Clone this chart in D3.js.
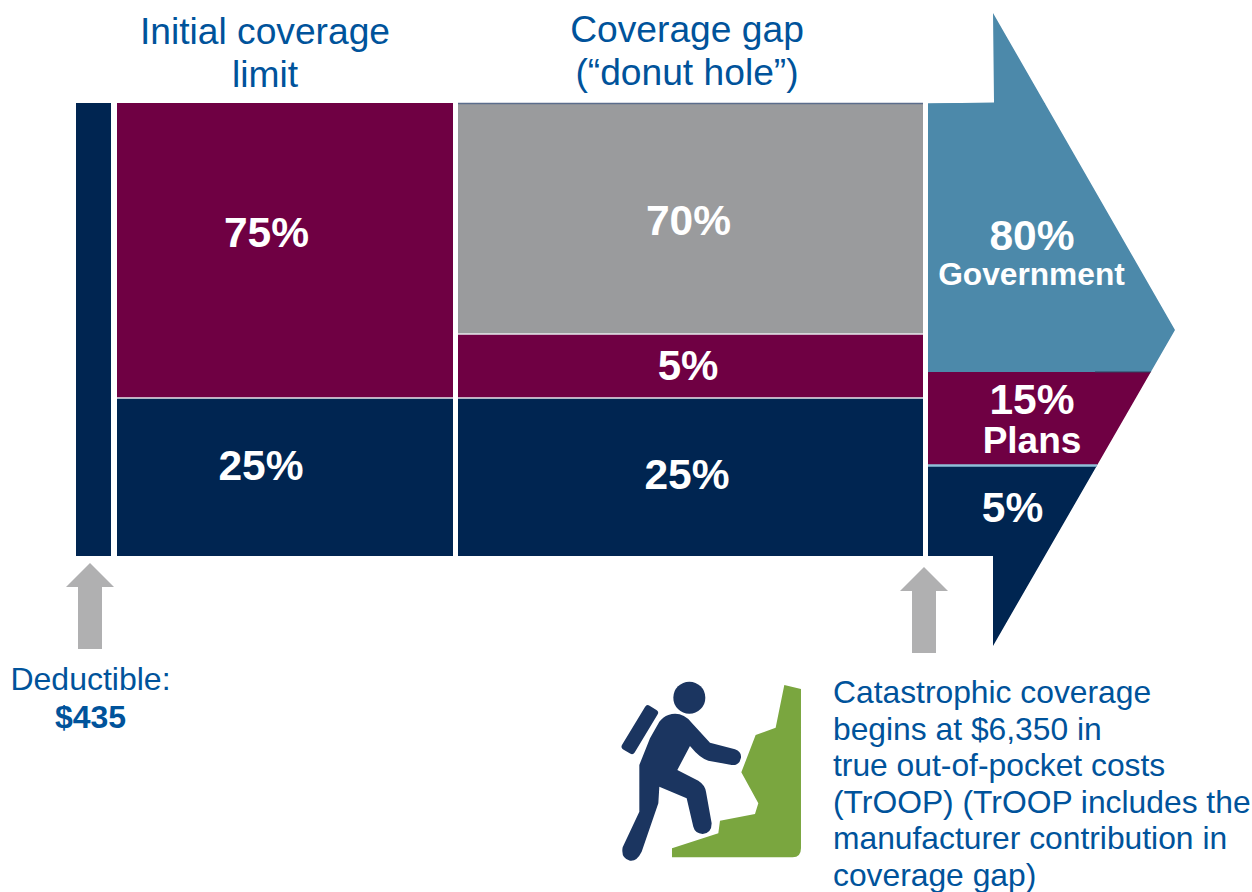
<!DOCTYPE html>
<html>
<head>
<meta charset="utf-8">
<script src="https://cdnjs.cloudflare.com/ajax/libs/d3/7.8.5/d3.min.js"></script>
<style>
html,body{margin:0;padding:0;background:#fff;}
svg{display:block;font-family:"Liberation Sans",Arial,sans-serif;}
</style>
</head>
<body>
<svg id="chart" width="1252" height="892"></svg>
<script>
// Medicare Part D benefit phases: who pays what share in each phase.
const phases = ["Deductible", "Initial coverage limit", "Coverage gap", "Catastrophic"];
const initialShares = [25, 75];
const initialLabels = ["25%", "75%"];
const gapShares = [25, 5, 70];
const gapLabels = ["25%", "5%", "70%"];
const catastrophicShares = [5, 15, 80];
const catastrophicLabels = ["5%", "15%", "80%"];
const catastrophicPayers = ["", "Plans", "Government"];
const phaseHeadings = [["Initial coverage", "limit"], ["Coverage gap", "(“donut hole”)"]];
const deductibleText = ["Deductible:", "$435"];
const catastrophicText = [
  "Catastrophic coverage",
  "begins at $6,350 in",
  "true out-of-pocket costs",
  "(TrOOP) (TrOOP includes the",
  "manufacturer contribution in",
  "coverage gap)"
];

const NAVY = "#002551", MAROON = "#6f0043", GREY = "#9a9b9d", TEAL = "#4c89aa",
      ARROW_GREY = "#b0b0b1", TEXT_BLUE = "#00539b", WHITE = "#fff";

const svg = d3.select("#chart");

// The bands are schematic, so every phase has its own piecewise share-to-pixel scale.
const yInitial = d3.scaleLinear().domain([0, 25, 100]).range([556, 398, 103]);
const yGap = d3.scaleLinear().domain([0, 25, 30, 100]).range([556, 398, 334, 103]);
const yCat = d3.scaleLinear().domain([0, 5, 20, 100]).range([556, 465.5, 372, 103]);

// Phase columns laid out along the horizontal axis.
const x = d3.scaleOrdinal().domain(phases).range([[76, 111], [117, 453], [458, 923], [928, 1180]]);

function stack(shares) {
  let total = 0;
  return shares.map(s => { const d = { from: total, to: total + s }; total += s; return d; });
}

function drawColumn(phase, shares, colors, y, parent) {
  const [x0, x1] = x(phase);
  parent.selectAll(null).data(stack(shares)).join("rect")
    .attr("x", x0).attr("width", x1 - x0)
    .attr("y", d => y(d.to)).attr("height", d => y(d.from) - y(d.to))
    .attr("fill", (d, i) => colors[i]);
}

// Deductible bar spans the full height of the benefit.
drawColumn(phases[0], [100], [NAVY], yInitial, svg);
drawColumn(phases[1], initialShares, [NAVY, MAROON], yInitial, svg);
drawColumn(phases[2], gapShares, [NAVY, MAROON, GREY], yGap, svg);

// Hairlines between the stacked bands.
const hair = (x0, x1, yy, c, w) => svg.append("line")
  .attr("x1", x0).attr("x2", x1).attr("y1", yy).attr("y2", yy)
  .attr("stroke", c).attr("stroke-width", w);
hair(117, 453, yInitial(25), "#e8e8ee", 1.5);
hair(458, 923, yGap(25), "#e8e8ee", 1.5);
hair(458, 923, yGap(30), "#e8e8ee", 1.5);
hair(458, 923, yGap(100) + 0.5, "#5b6d8c", 1.5);

// Catastrophic phase is an arrow; its bands are clipped to the arrow outline.
const arrowOutline = [[928, 103.5], [994, 102.5], [993, 13], [1175, 330], [993, 646], [993, 556], [928, 556]];
const line = d3.line();
svg.append("defs").append("clipPath").attr("id", "arrow-clip")
  .append("path").attr("d", line(arrowOutline) + "Z");
const arrowGroup = svg.append("g").attr("clip-path", "url(#arrow-clip)");
drawColumn(phases[3], catastrophicShares, [NAVY, MAROON, TEAL], yCat, arrowGroup);
// The top band and the bottom band run on to the arrow's barbs.
arrowGroup.append("rect").attr("x", 928).attr("width", 260).attr("y", 0).attr("height", 104).attr("fill", TEAL);
arrowGroup.append("rect").attr("x", 928).attr("width", 260).attr("y", 556).attr("height", 100).attr("fill", NAVY);
arrowGroup.append("line").attr("x1", 928).attr("x2", 1180).attr("y1", yCat(5)).attr("y2", yCat(5))
  .attr("stroke", "#8fc0d8").attr("stroke-width", 2.5);
arrowGroup.append("line").attr("x1", 1095).attr("x2", 1180).attr("y1", yCat(20)).attr("y2", yCat(20))
  .attr("stroke", "#2f3f5f").attr("stroke-width", 1);

// Value labels inside the bands.
const label = (tx, ty, text, size, fill, anchor, weight) => svg.append("text")
  .attr("x", tx).attr("y", ty).attr("font-size", size)
  .attr("fill", fill || WHITE).attr("text-anchor", anchor || "middle")
  .attr("font-weight", weight || "bold").text(text);

label(266.5, 247, initialLabels[1], 42.5);
label(261, 480, initialLabels[0], 42.5);
label(688.5, 235, gapLabels[2], 42.5);
label(688, 380, gapLabels[1], 42);
label(687, 489, gapLabels[0], 42.5);
label(1032, 250, catastrophicLabels[2], 42.5);
label(1031.5, 285, catastrophicPayers[2], 31.7);
label(1032, 414, catastrophicLabels[1], 42.5);
label(1032, 453, catastrophicPayers[1], 37);
label(1012.5, 522, catastrophicLabels[0], 42.5);

// Phase headings.
label(265, 44, phaseHeadings[0][0], 37.2, TEXT_BLUE, "middle", "normal");
label(265, 87, phaseHeadings[0][1], 37.2, TEXT_BLUE, "middle", "normal");
label(687, 42, phaseHeadings[1][0], 37.2, TEXT_BLUE, "middle", "normal");
label(687, 85, phaseHeadings[1][1], 37.2, TEXT_BLUE, "middle", "normal");

// Up arrows marking where the deductible and catastrophic phases begin.
function upArrow(cx, top, bottom) {
  const pts = [[cx, top], [cx + 24, top + 24], [cx + 12, top + 24], [cx + 12, bottom],
               [cx - 12, bottom], [cx - 12, top + 24], [cx - 24, top + 24]];
  svg.append("path").attr("d", line(pts) + "Z").attr("fill", ARROW_GREY);
}
upArrow(90, 563, 649);
upArrow(924, 567, 653);

// Captions under the arrows.
label(90.5, 690, deductibleText[0], 32, TEXT_BLUE, "middle", "normal");
label(90.5, 728, deductibleText[1], 32, TEXT_BLUE, "middle", "bold");
svg.append("g").selectAll("text").data(catastrophicText).join("text")
  .attr("x", 833).attr("y", (d, i) => 703 + i * 36.6)
  .attr("font-size", 31.8).attr("fill", TEXT_BLUE).text(d => d);

// Climber pictogram.
const icon = svg.append("g").attr("transform", "translate(600,670) scale(0.3333)");
icon.append("path").attr("fill", "#7aa63f")
  .attr("d", "M553,45 L603,57 L603,535 Q603,562 578,562 L216,562 L216,535 L355,490 L360,452 L465,432 L475,400 L424,307 L467,195 L527,173 Z");
icon.append("circle").attr("cx", 268).attr("cy", 83).attr("r", 48).attr("fill", "#1b3560");
icon.append("rect").attr("x", 119.5 - 76.5).attr("y", 179 - 22).attr("width", 153).attr("height", 44).attr("rx", 10)
  .attr("transform", "rotate(-58.9 119.5 179)").attr("fill", "#1b3560");
icon.append("path").attr("fill", "#1b3560")
  .attr("d", "M205,135 Q245,122 275,158 L330,218 L405,238 Q425,245 423,263 Q418,288 395,285 L325,272 Q300,265 270,228 L232,300 L295,332 Q315,345 318,365 L335,460 Q335,490 308,492 Q285,490 280,470 L260,385 L178,350 L175,400 L125,545 Q110,575 90,572 Q62,565 68,532 L118,425 L118,285 L150,205 L178,155 Q190,140 205,135 Z");
</script>
</body>
</html>
